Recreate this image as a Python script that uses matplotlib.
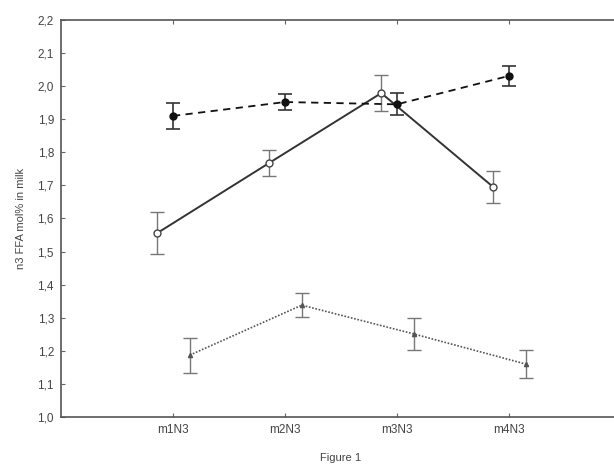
import matplotlib
matplotlib.use("Agg")
import matplotlib.pyplot as plt
import numpy as np

plt.rcParams['font.family'] = ['Liberation Sans', 'DejaVu Sans']

categories = ["m1N3", "m2N3", "m3N3", "m4N3"]
yticks = [1.0, 1.1, 1.2, 1.3, 1.4, 1.5, 1.6, 1.7, 1.8, 1.9, 2.0, 2.1, 2.2]
ytick_labels = ["1,0", "1,1", "1,2", "1,3", "1,4", "1,5", "1,6", "1,7", "1,8", "1,9", "2,0", "2,1", "2,2"]

open_vals = [1.556, 1.768, 1.979, 1.695]
open_err = [0.063, 0.040, 0.055, 0.048]
filled_vals = [1.910, 1.952, 1.945, 2.031]
filled_err = [0.040, 0.025, 0.033, 0.030]
tri_vals = [1.187, 1.338, 1.251, 1.160]
tri_err = [0.053, 0.036, 0.048, 0.042]

fig = plt.figure(figsize=(6.14, 4.69), dpi=100)
ax = fig.add_axes([0.0993, 0.1109, 0.912, 0.8465])

x = np.arange(1, len(categories) + 1)
ecol = "#777777"

ax.errorbar(x - 0.14, open_vals, yerr=open_err, fmt='o', color='#333333', mfc='white',
            mec='#444444', ms=5, mew=1, ecolor=ecol, elinewidth=1, capsize=5, capthick=1,
            linestyle='-', lw=1.4, zorder=3)
ax.errorbar(x, filled_vals, yerr=filled_err, fmt='o', color='#111111', mfc='#111111',
            mec='#111111', ms=5, ecolor='#333333', elinewidth=1.2, capsize=5, capthick=1.2,
            linestyle=(0, (4, 3)), lw=1.3, zorder=4)
ax.errorbar(x + 0.15, tri_vals, yerr=tri_err, fmt='^', color='#555555', mfc='#555555',
            mec='#555555', ms=3, ecolor=ecol, elinewidth=1, capsize=5, capthick=1,
            linestyle=(0, (1, 1)), lw=1.2, zorder=3)

ax.set_xlim(0, 5)
ax.set_ylim(1.0, 2.2)
ax.set_xticks(x)
ax.set_xticklabels(categories)
ax.set_yticks(yticks)
ax.set_yticklabels(ytick_labels)

for s in ax.spines.values():
    s.set_color('#555555')
    s.set_linewidth(1.2)

ax.tick_params(direction='in', length=3, color='#666666', labelsize=8.5,
               labelcolor='#444444', top=True, right=True, pad=5)

ax.set_ylabel("n3 FFA mol% in milk", fontsize=8, color='#444444', labelpad=8)
ax.set_xlabel("Figure 1", fontsize=8, color='#444444', labelpad=12)

fig.savefig("out.png", dpi=100)
